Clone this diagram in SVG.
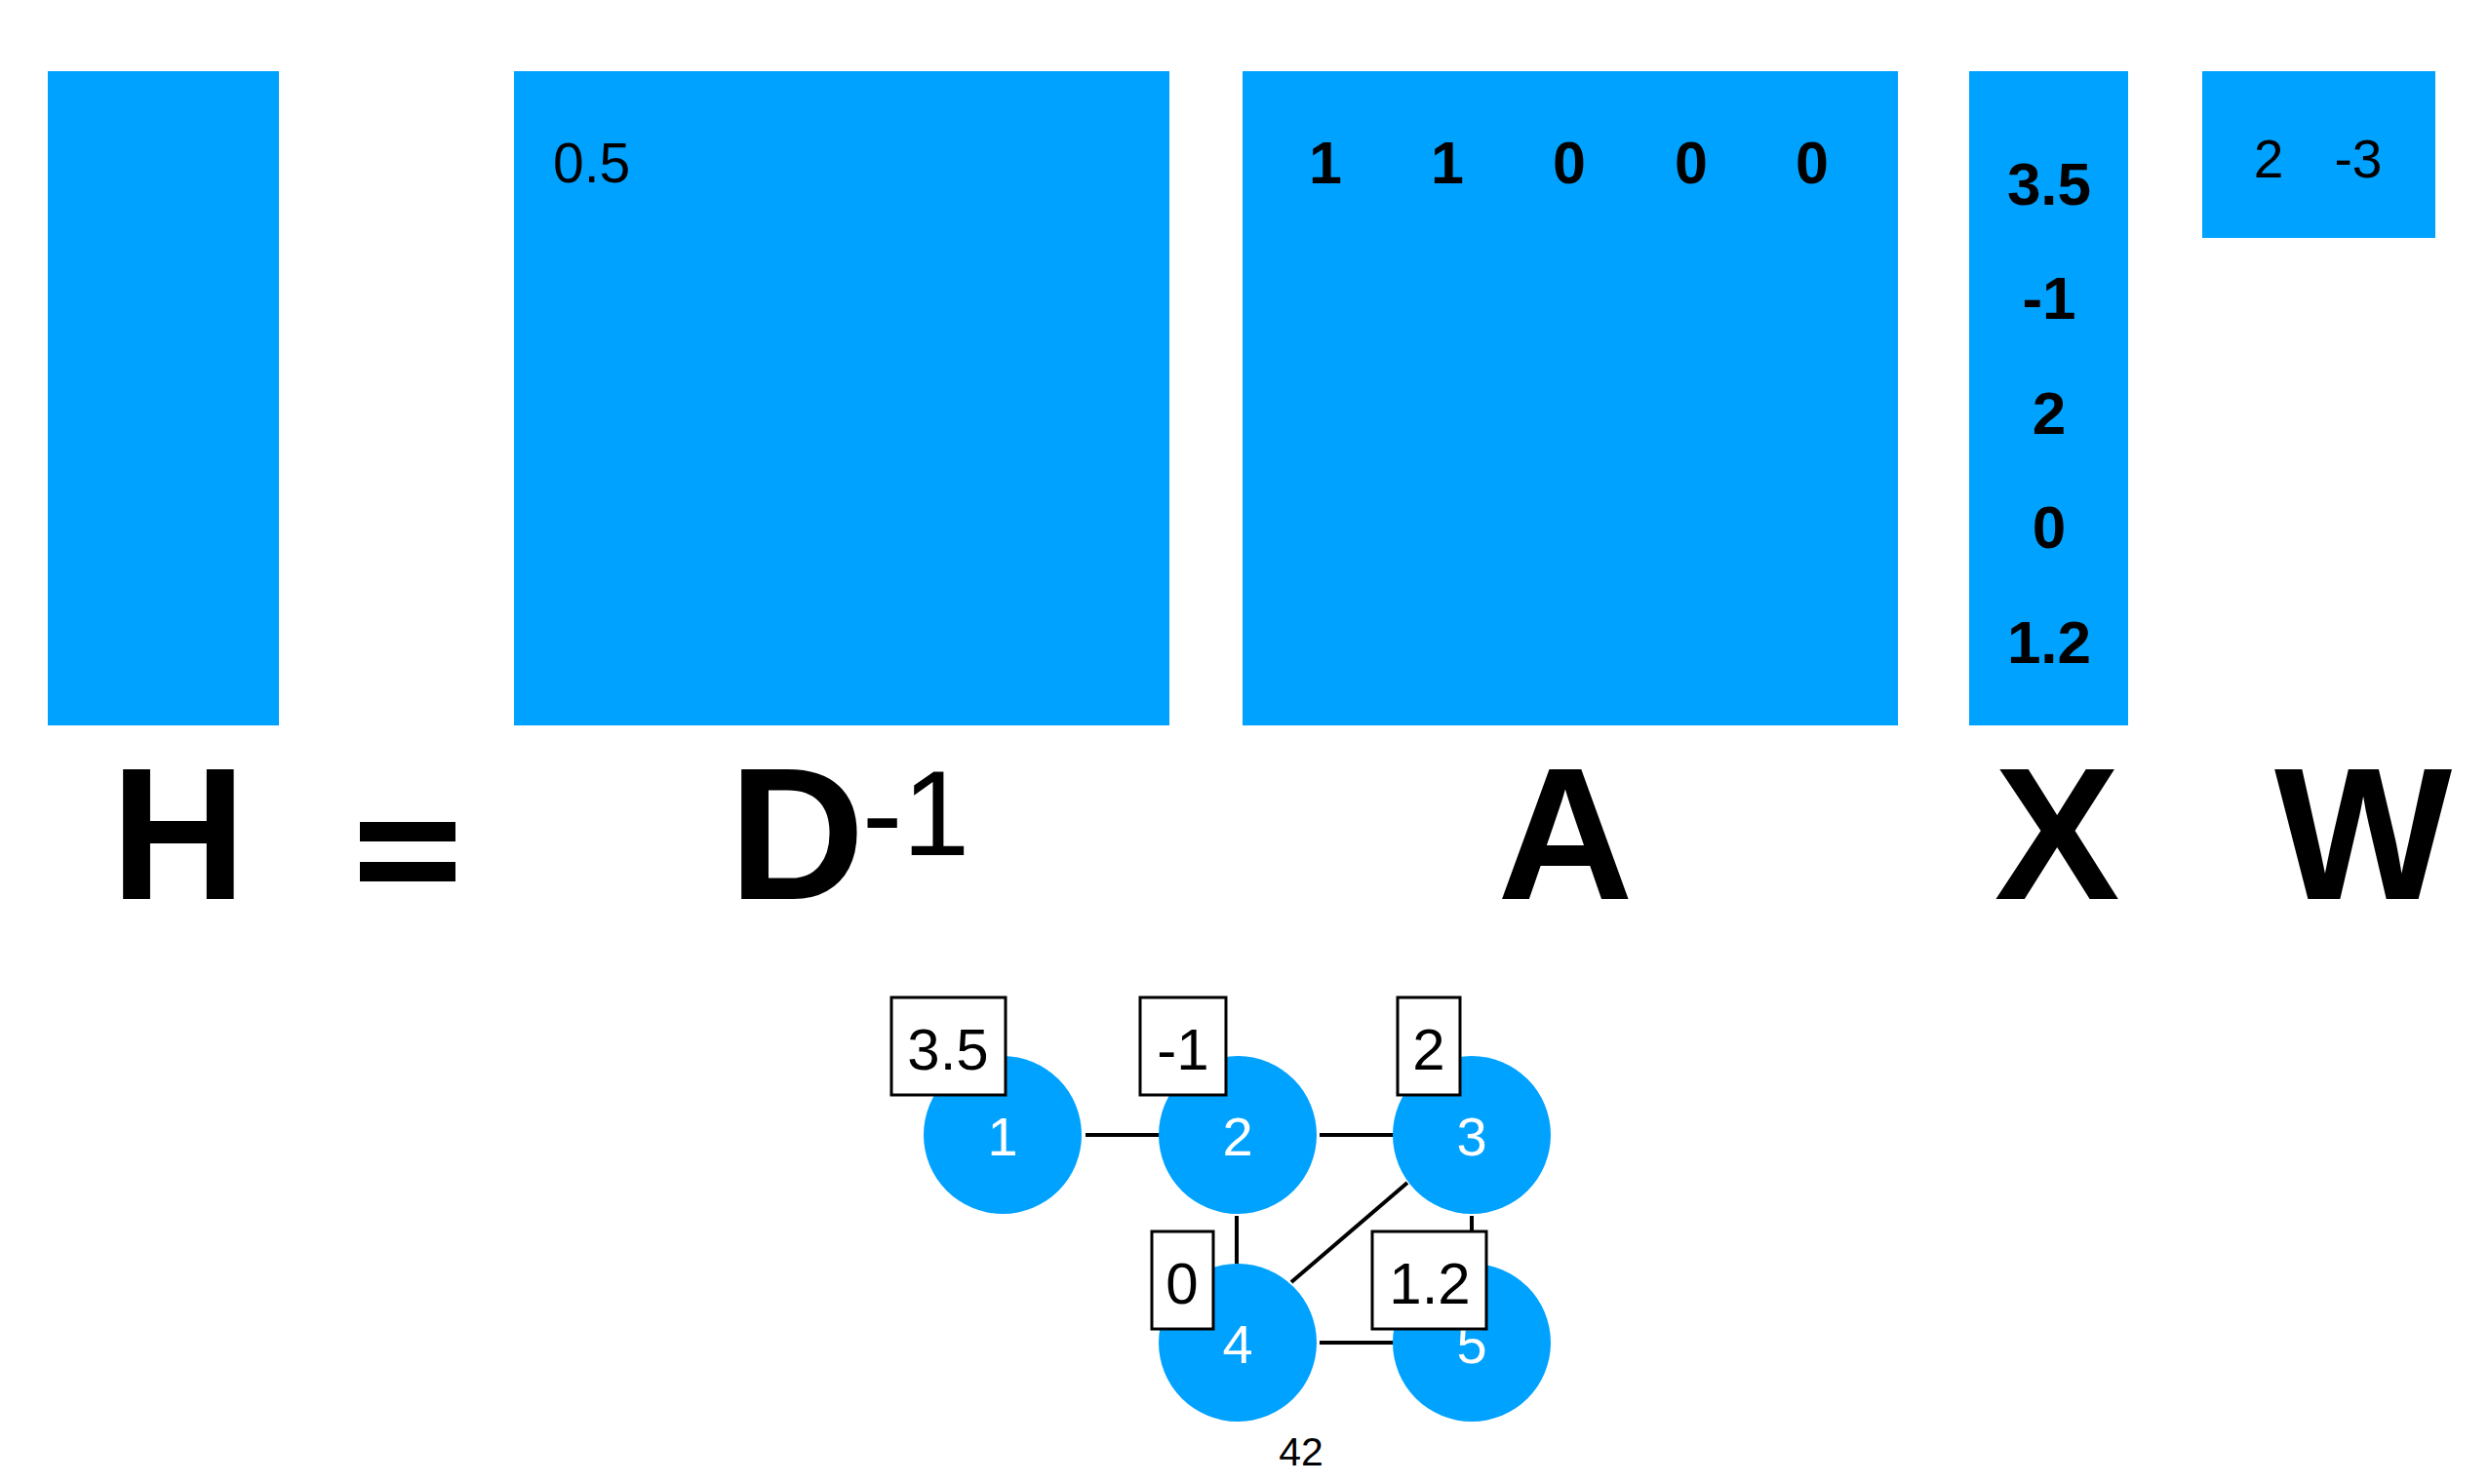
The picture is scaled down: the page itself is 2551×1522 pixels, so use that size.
<svg xmlns="http://www.w3.org/2000/svg" width="2551" height="1522" viewBox="0 0 2551 1522">
<style>
.m{fill:#00A2FF}
.t{font-family:"Liberation Sans",Arial,sans-serif;fill:#000}
.b{font-weight:bold}
.big{font-family:"Liberation Sans",Arial,sans-serif;font-weight:bold;font-size:193px;fill:#000;text-anchor:middle}
.c{fill:#00A2FF}
.nl{font-family:"Liberation Sans",Arial,sans-serif;font-size:56px;fill:#fff;text-anchor:middle}
.box{fill:#fff;stroke:#000;stroke-width:3}
.bt{font-family:"Liberation Sans",Arial,sans-serif;font-size:60px;fill:#000;text-anchor:middle}
.e{stroke:#000;stroke-width:4;fill:none}
</style>
<rect width="2551" height="1522" fill="#fff"/>
<g id="matrix-H"><rect class="m" x="49" y="73" width="237" height="671"/></g>
<g id="matrix-D"><rect class="m" x="527" y="73" width="672" height="671"/>
<text class="t" x="567" y="187" font-size="57">0.5</text></g>
<g id="matrix-A"><rect class="m" x="1274" y="73" width="672" height="671"/>
<g class="t b" font-size="61" text-anchor="middle">
<text x="1359" y="188">1</text><text x="1484" y="188">1</text><text x="1609" y="188">0</text><text x="1734" y="188">0</text><text x="1858" y="188">0</text></g></g>
<g id="matrix-X"><rect class="m" x="2019" y="73" width="163" height="671"/>
<g class="t b" font-size="62" text-anchor="middle">
<text x="2101" y="210">3.5</text><text x="2101" y="327">-1</text><text x="2101" y="445">2</text><text x="2101" y="562">0</text><text x="2101" y="680">1.2</text></g></g>
<g id="matrix-W"><rect class="m" x="2258" y="73" width="239" height="171"/>
<g class="t" font-size="55" text-anchor="middle"><text x="2326" y="182">2</text><text x="2418" y="182">-3</text></g></g>
<g id="labels">
<text class="big" x="183" y="922">H</text>
<rect x="369" y="843" width="98" height="20" fill="#000"/>
<rect x="369" y="884" width="98" height="20" fill="#000"/>
<text class="big" x="817" y="922">D</text>
<text class="t" x="884" y="877" font-size="124">-1</text>
<text class="big" x="1605" y="922">A</text>
<text class="big" x="2109" y="922">X</text>
<text class="big" x="2423" y="922">W</text>
</g>
<g id="edges">
<line class="e" x1="1113" y1="1164" x2="1189" y2="1164"/>
<line class="e" x1="1353" y1="1164" x2="1429" y2="1164"/>
<line class="e" x1="1268" y1="1247" x2="1268" y2="1296"/>
<line class="e" x1="1509" y1="1247" x2="1509" y2="1296"/>
<line class="e" x1="1443" y1="1213" x2="1324" y2="1315"/>
<line class="e" x1="1353" y1="1377" x2="1429" y2="1377"/>
</g>
<g id="node1"><circle class="c" cx="1028" cy="1164" r="81"/><text class="nl" x="1028" y="1185">1</text></g>
<g id="node2"><circle class="c" cx="1269" cy="1164" r="81"/><text class="nl" x="1269" y="1185">2</text></g>
<g id="node3"><circle class="c" cx="1509" cy="1164" r="81"/><text class="nl" x="1509" y="1185">3</text></g>
<g id="node4"><circle class="c" cx="1269" cy="1377" r="81"/><text class="nl" x="1269" y="1398">4</text></g>
<g id="node5"><circle class="c" cx="1509" cy="1377" r="81"/><text class="nl" x="1509" y="1398">5</text></g>
<g id="value-labels">
<rect class="box" x="914" y="1023" width="117" height="100"/><text class="bt" x="972" y="1097">3.5</text>
<rect class="box" x="1169" y="1023" width="88" height="100"/><text class="bt" x="1213" y="1097">-1</text>
<rect class="box" x="1433" y="1023" width="64" height="100"/><text class="bt" x="1465" y="1097">2</text>
<rect class="box" x="1181" y="1263" width="63" height="100"/><text class="bt" x="1212" y="1337">0</text>
<rect class="box" x="1407" y="1263" width="117" height="100"/><text class="bt" x="1466" y="1337">1.2</text>
</g>
<text class="t" x="1334" y="1503" font-size="41" text-anchor="middle" fill="#222">42</text>
</svg>
